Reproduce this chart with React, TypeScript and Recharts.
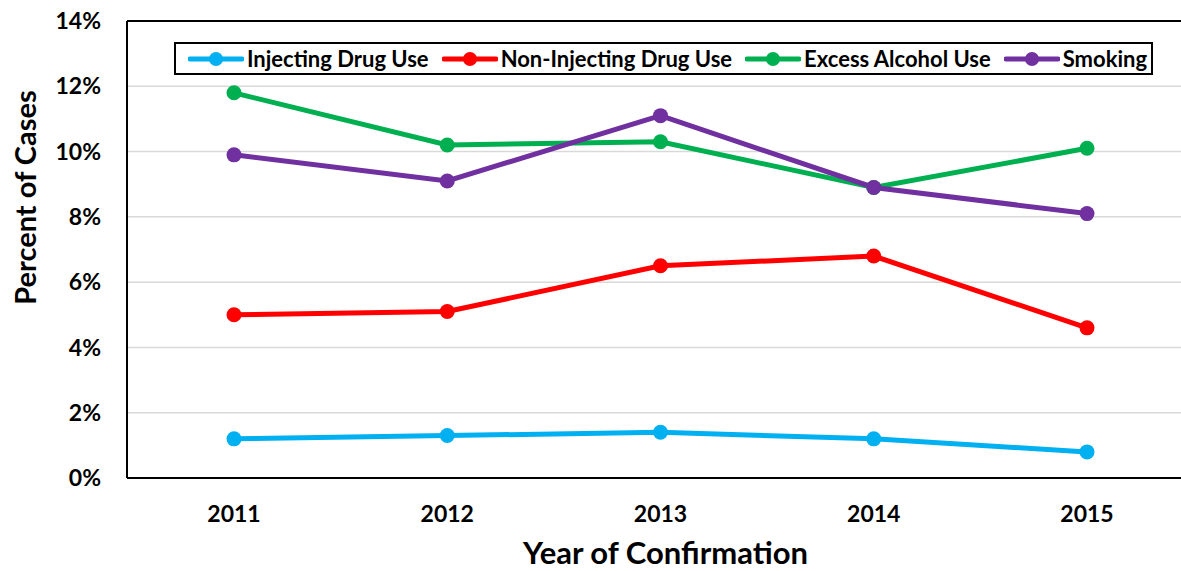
import { CartesianGrid, Line, LineChart, ReferenceLine, XAxis, YAxis } from "recharts";

const years = ["2011", "2012", "2013", "2014", "2015"];
const injecting = [1.2, 1.3, 1.4, 1.2, 0.8];
const nonInjecting = [5.0, 5.1, 6.5, 6.8, 4.6];
const alcohol = [11.8, 10.2, 10.3, 8.9, 10.1];
const smoking = [9.9, 9.1, 11.1, 8.9, 8.1];
const yTicks = [0, 2, 4, 6, 8, 10, 12, 14];

const series = [
  { key: "injecting", name: "Injecting Drug Use", color: "#00B0F0", values: injecting },
  { key: "nonInjecting", name: "Non-Injecting Drug Use", color: "#FF0000", values: nonInjecting },
  { key: "alcohol", name: "Excess Alcohol Use", color: "#00B050", values: alcohol },
  { key: "smoking", name: "Smoking", color: "#7030A0", values: smoking },
];

const data = years.map((year, i) => {
  const row: Record<string, string | number> = { year };
  series.forEach((s) => {
    row[s.key] = s.values[i];
  });
  return row;
});

const FONT = "Lato, 'Open Sans', sans-serif";
const tickStyle = { fontFamily: FONT, fontSize: 23, fontWeight: 700, fill: "#000" };

// legend sits inside the plot, overlaid as plain HTML so it doesn't shrink the plot
function LegendBox() {
  return (
    <div
      style={{
        position: "absolute",
        left: 174,
        top: 42,
        display: "flex",
        alignItems: "center",
        border: "2px solid #000",
        background: "#fff",
        height: 29,
        padding: "0 4px 0 12px",
        fontFamily: FONT,
        fontWeight: 700,
        fontSize: 22,
        color: "#000",
        whiteSpace: "nowrap",
      }}
    >
      {series.map((s, i) => (
        <div key={s.key} style={{ display: "flex", alignItems: "center", marginLeft: i === 0 ? 0 : 13 }}>
          <svg width={56} height={16} style={{ marginRight: 3 }}>
            <line x1={2} y1={8} x2={54} y2={8} stroke={s.color} strokeWidth={5} strokeLinecap="round" />
            <circle cx={28} cy={8} r={7} fill={s.color} />
          </svg>
          <span>{s.name}</span>
        </div>
      ))}
    </div>
  );
}

function YTitle({ viewBox }: any) {
  const cx = 24;
  const cy = viewBox.y + viewBox.height / 2 - 52;
  return (
    <text
      x={cx}
      y={cy}
      transform={`rotate(-90 ${cx} ${cy})`}
      textAnchor="middle"
      dominantBaseline="central"
      style={{ fontFamily: FONT, fontSize: 29, fontWeight: 700, fill: "#000" }}
    >
      Percent of Cases
    </text>
  );
}

function XTitle({ viewBox }: any) {
  const cx = viewBox.x + viewBox.width / 2 + 5;
  return (
    <text
      x={cx}
      y={564}
      textAnchor="middle"
      style={{ fontFamily: FONT, fontSize: 31, fontWeight: 700, fill: "#000" }}
    >
      Year of Confirmation
    </text>
  );
}

export default function App() {
  return (
    <div style={{ position: "absolute", left: 0, top: 0, width: 1181, height: 571, overflow: "hidden", background: "#fff" }}>
      <LineChart width={1200} height={571} data={data} margin={{ top: 21, right: 6, bottom: 0, left: 0 }}>
        <CartesianGrid vertical={false} stroke="#D9D9D9" strokeWidth={1.5} />
        <ReferenceLine y={14} stroke="#000" strokeWidth={2} />
        <XAxis
          dataKey="year"
          height={93}
          padding={{ left: 107, right: 107 }}
          axisLine={{ stroke: "#000", strokeWidth: 2 }}
          tickLine={false}
          tickSize={0}
          tickMargin={28}
          tick={tickStyle}
          label={<XTitle />}
        />
        <YAxis
          domain={[0, 14]}
          ticks={yTicks}
          width={127}
          tickFormatter={(v: number) => `${v}%`}
          axisLine={{ stroke: "#000", strokeWidth: 2 }}
          tickLine={false}
          tickSize={0}
          tickMargin={26}
          tick={tickStyle}
          label={<YTitle />}
        />
        {series.map((s) => (
          <Line
            key={s.key}
            dataKey={s.key}
            name={s.name}
            type="linear"
            stroke={s.color}
            strokeWidth={5}
            dot={{ r: 7.5, fill: s.color, stroke: s.color, strokeWidth: 0 }}
            activeDot={false}
            isAnimationActive={false}
          />
        ))}
      </LineChart>
      <LegendBox />
    </div>
  );
}
